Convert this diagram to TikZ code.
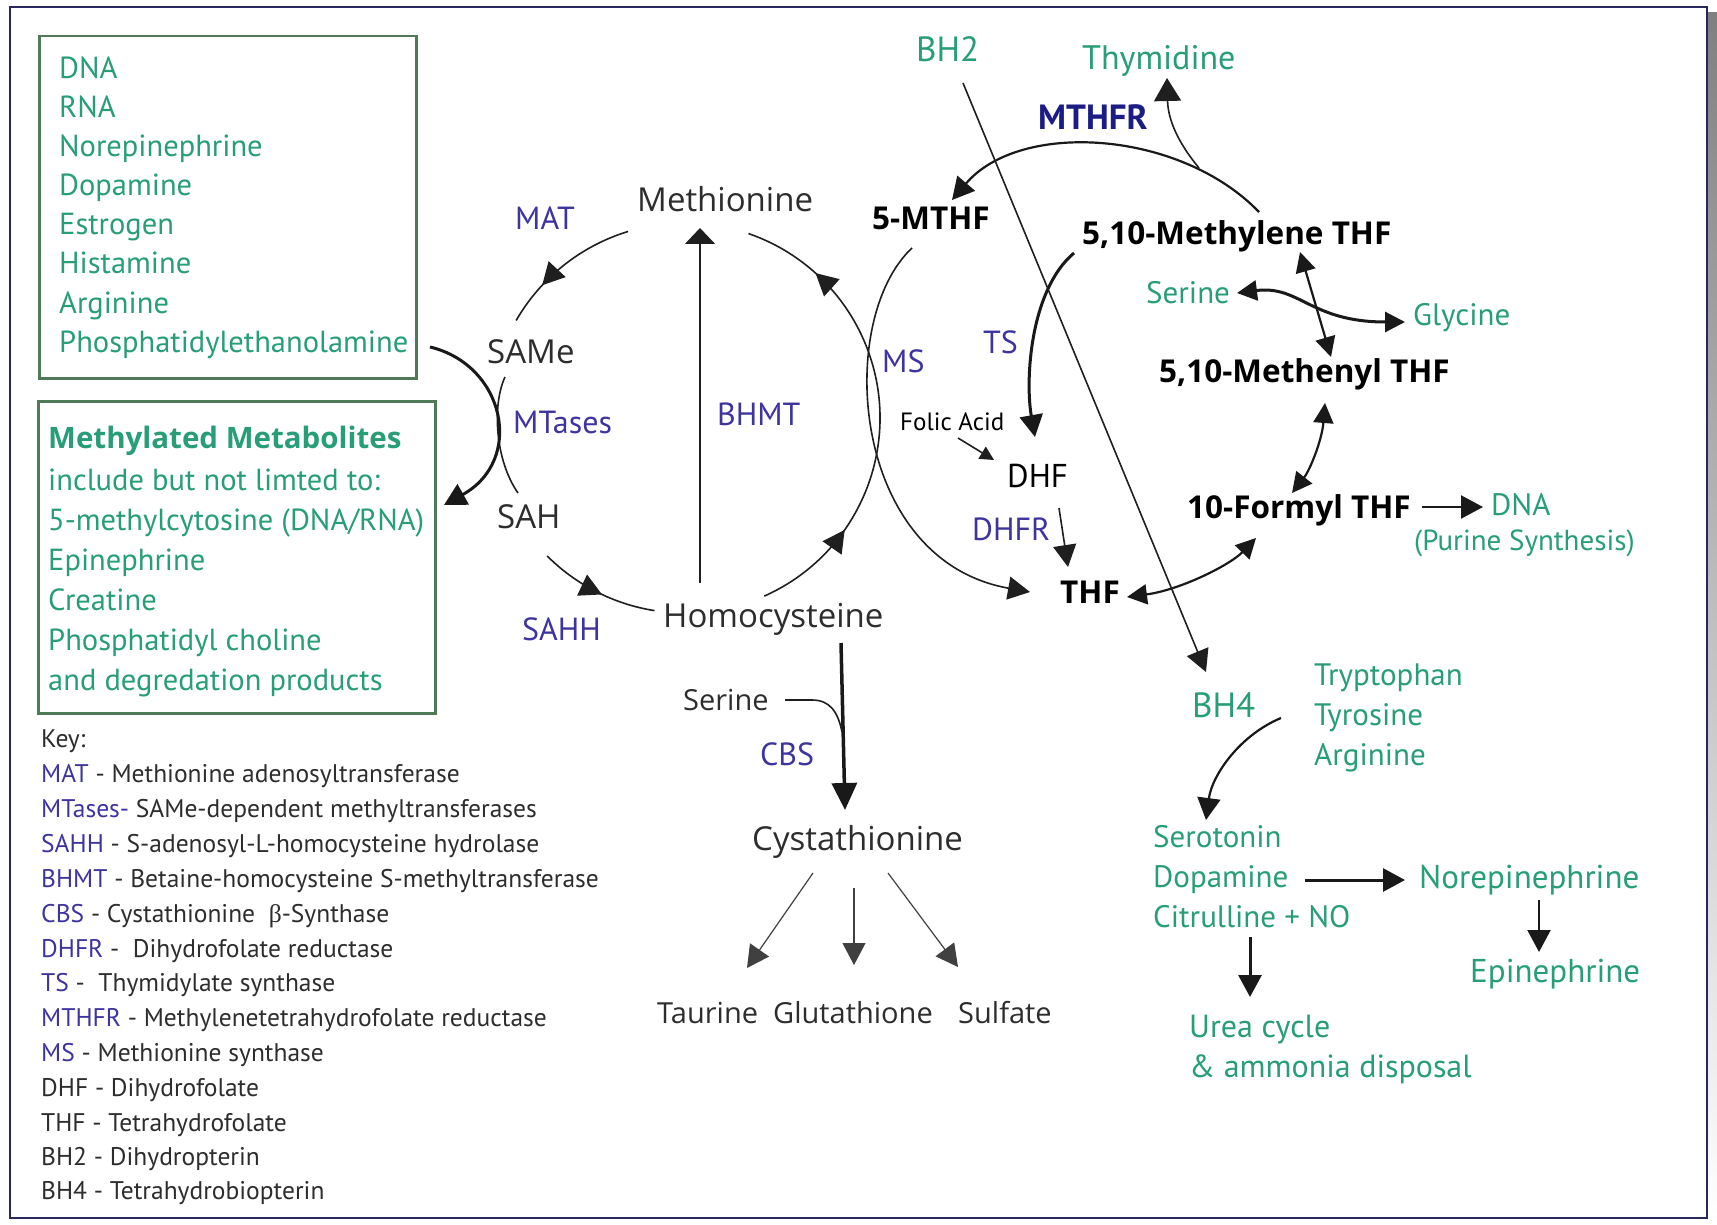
\documentclass[tikz,border=0pt]{standalone}
\usepackage{fontspec}
\setmainfont{PT Sans}
\newfontfamily\roundfont{Open Sans}
\newfontfamily\greekfont{Liberation Serif}
\usetikzlibrary{arrows.meta,decorations.markings}
\definecolor{leaf}{RGB}{40,158,118}
\definecolor{boxline}{RGB}{78,122,88}
\definecolor{enz}{RGB}{62,52,160}
\definecolor{enzdark}{RGB}{28,28,135}
\definecolor{ink}{RGB}{45,45,45}
\definecolor{framec}{RGB}{40,40,95}
\definecolor{shade}{RGB}{168,170,190}
\newcommand\fs[1]{\fontsize{#1}{#1}\selectfont}
\begin{document}
\begin{tikzpicture}[x=1pt,y=-1pt,
  txt/.style={inner sep=0pt,anchor=base west},
  grn/.style={txt,text=leaf,font=\fs{30.5}},
  enzl/.style={txt,text=enz,font=\fs{32}},
  metab/.style={txt,text=ink,font=\roundfont\fs{33}},
  fol/.style={txt,text=black,font=\roundfont\fs{31.5}\bfseries},
  keyt/.style={txt,text=ink,font=\fs{25.5}},
  lnA/.style={line width=1.6pt,draw=black!88},
  lnB/.style={line width=2.2pt,draw=black!90},
  lnC/.style={line width=3pt,draw=black!90},
  lnD/.style={line width=3.5pt,draw=black!90},
  lnE/.style={line width=1.2pt,draw=black!75},
  tipA/.style={-{Triangle[length=22pt,width=23pt]}},
  tipB/.style={{Triangle[length=20pt,width=20pt]}-{Triangle[length=20pt,width=20pt]}},
  midtip/.style={postaction={decorate},decoration={markings,
     mark=at position #1 with {\arrow{Triangle[length=22pt,width=23pt]}}}},
  twotips/.style 2 args={postaction={decorate},decoration={markings,
     mark=at position #1 with {\arrow{Triangle[length=22pt,width=23pt]}},
     mark=at position #2 with {\arrow{Triangle[length=22pt,width=23pt]}}}},
]
\useasboundingbox (0,0) rectangle (1717,1225);
% page frame with drop shadow
\fill[shade] (16,13) rectangle (1717,1225);
\draw[fill=white,draw=framec,line width=1.5pt] (10,7) rectangle (1707,1218);

% ---------- left boxes ----------
\node[draw=boxline,line width=2.5pt,minimum width=377pt,minimum height=342pt,inner sep=0pt,anchor=north west] (srcbox) at (38,35) {};
\foreach \w [count=\i] in {DNA,RNA,Norepinephrine,Dopamine,Estrogen,Histamine,Arginine,Phosphatidylethanolamine}
  \node[grn] (src\i) at (59,{40+39*\i}) {\w};

\node[draw=boxline,line width=2.5pt,minimum width=397pt,minimum height=312pt,inner sep=0pt,anchor=north west] (metbox) at (37,400) {};
\node[grn,font=\roundfont\fs{29.5}\bfseries] (mm0) at (48,448) {Methylated Metabolites};
\foreach \w [count=\i] in {include but not limted to:,5-methylcytosine (DNA/RNA),Epinephrine,Creatine,Phosphatidyl choline,and degredation products}
  \node[grn] (mm\i) at (48,{450+40*\i}) {\w};

% ---------- key ----------
\node[keyt] (key0) at (41,747) {Key:};
\node[keyt] (key1) at (41,782) {\textcolor{enz}{MAT} - Methionine adenosyltransferase};
\node[keyt] (key2) at (41,817) {\textcolor{enz}{MTases-} SAMe-dependent methyltransferases};
\node[keyt] (key3) at (41,852) {\textcolor{enz}{SAHH} - S-adenosyl-L-homocysteine hydrolase};
\node[keyt] (key4) at (41,887) {\textcolor{enz}{BHMT} - Betaine-homocysteine S-methyltransferase};
\node[keyt] (key5) at (41,922) {\textcolor{enz}{CBS} - Cystathionine\ \ {\greekfont β}-Synthase};
\node[keyt] (key6) at (41,957) {\textcolor{enz}{DHFR} -\ \ Dihydrofolate reductase};
\node[keyt] (key7) at (41,991) {\textcolor{enz}{TS} -\ \ Thymidylate synthase};
\node[keyt] (key8) at (41,1026) {\textcolor{enz}{MTHFR} - Methylenetetrahydrofolate reductase};
\node[keyt] (key9) at (41,1061) {\textcolor{enz}{MS} - Methionine synthase};
\node[keyt] (key10) at (41,1096) {DHF - Dihydrofolate};
\node[keyt] (key11) at (41,1131) {THF - Tetrahydrofolate};
\node[keyt] (key12) at (41,1165) {BH2 - Dihydropterin};
\node[keyt] (key13) at (41,1199) {BH4 - Tetrahydrobiopterin};

% ---------- methionine cycle ----------
\node[metab] (met) at (637,212) {Methionine};
\node[metab] (same) at (487,363) {SAMe};
\node[metab] (sah) at (497,528) {SAH};
\node[metab] (hcy) at (663,627) {Homocysteine};
\node[metab,font=\roundfont\fs{29}] (ser1) at (683,710) {Serine};
\node[metab] (cys) at (752,850) {Cystathionine};
\node[metab,font=\roundfont\fs{29}] (tau) at (657,1023) {Taurine};
\node[metab,font=\roundfont\fs{29}] (glu) at (773,1023) {Glutathione};
\node[metab,font=\roundfont\fs{29}] (sulf) at (958,1023) {Sulfate};

\node[enzl] (mat) at (515,230) {MAT};
\node[enzl] (mtase) at (513,433) {MTases};
\node[enzl] (sahh) at (522,640) {SAHH};
\node[enzl] (bhmt) at (717,425) {BHMT};
\node[enzl] (ms) at (882,372) {MS};
\node[enzl] (cbs) at (760,765) {CBS};
\node[enzl] (ts) at (983,353) {TS};
\node[enzl] (dhfr) at (972,540) {DHFR};
\node[txt,text=enzdark,font=\fs{35}\bfseries] (mthfr) at (1038,130) {MTHFR};

% ---------- folate cycle ----------
\node[fol] (mthf) at (872,230) {5-MTHF};
\node[fol] (mlene) at (1082,245) {5,10-Methylene THF};
\node[fol] (mnyl) at (1159,382) {5,10-Methenyl THF};
\node[fol] (formyl) at (1187,518) {10-Formyl THF};
\node[fol] (thf) at (1060,603) {THF};
\node[txt,font=\fs{25}] (folic) at (900,430) {Folic Acid};
\node[txt,font=\fs{33}] (dhf) at (1007,487) {DHF};

\node[grn,font=\fs{35}] (bh2) at (916,62) {BH2};
\node[grn,font=\fs{34}] (thy) at (1082,70) {Thymidine};
\node[grn,font=\fs{31}] (ser2) at (1146,303) {Serine};
\node[grn,font=\fs{31}] (gly) at (1413,325) {Glycine};
\node[grn,font=\fs{31}] (dna) at (1491,515) {DNA};
\node[grn,font=\fs{29}] (pur) at (1414,550) {(Purine Synthesis)};
\node[grn,font=\fs{35}] (bh4) at (1192,717) {BH4};
\node[grn,font=\fs{31}] (trp) at (1314,685) {Tryptophan};
\node[grn,font=\fs{31}] (tyr) at (1314,725) {Tyrosine};
\node[grn,font=\fs{31}] (arg) at (1314,765) {Arginine};
\node[grn,font=\fs{31}] (sero) at (1153,847) {Serotonin};
\node[grn,font=\fs{31}] (dopa) at (1153,887) {Dopamine};
\node[grn,font=\fs{31}] (citr) at (1153,927) {Citrulline + NO};
\node[grn,font=\fs{33}] (nor) at (1419,888) {Norepinephrine};
\node[grn,font=\fs{33}] (epi) at (1470,982) {Epinephrine};
\node[grn,font=\fs{32}] (urea) at (1189,1037) {Urea cycle};
\node[grn,font=\fs{32}] (amm) at (1189,1077) {\& ammonia disposal};

% ---------- connector end points ----------
\coordinate (matA) at (628,231.5);
\coordinate (sahA) at (547.1,555.9);
\coordinate (msA) at (764.3,596.1);
\coordinate (bhmtA) at (700,583);  \coordinate (bhmtB) at (700,228);
\coordinate (mtA) at (505,377);    \coordinate (mtB) at (518,493);
\coordinate (peA) at (430,347);    \coordinate (peB) at (444,505);
\coordinate (cbsA) at (841,643);   \coordinate (cbsB) at (845,810);
\coordinate (serA) at (785,700);   \coordinate (serB) at (842,732);
\coordinate (cyL) at (813,873);    \coordinate (cyLt) at (747,968);
\coordinate (cyM) at (854,888);    \coordinate (cyMt) at (854,965);
\coordinate (cyR) at (888,873);    \coordinate (cyRt) at (958,967);
\coordinate (folA) at (912,248);   \coordinate (folB) at (1030,592);
\coordinate (mthA) at (1259,212);  \coordinate (mthB) at (952,200);
\coordinate (thyA) at (1199,168);  \coordinate (thyB) at (1167,78);
\coordinate (tsA) at (1074,253);   \coordinate (tsB) at (1035,437);
\coordinate (faA) at (958,438);    \coordinate (faB) at (994,460);
\coordinate (dhA) at (1059,508);   \coordinate (dhB) at (1068,567);
\coordinate (tfA) at (1127,597);   \coordinate (tfB) at (1256,538);
\coordinate (fmA) at (1292,493);   \coordinate (fmB) at (1325,403);
\coordinate (mmA) at (1300,252);   \coordinate (mmB) at (1331,357);
\coordinate (sgA) at (1237,293);   \coordinate (sgB) at (1405,322);
\coordinate (bhA) at (963,83);     \coordinate (bhB) at (1206,672);
\coordinate (b4A) at (1281,718);   \coordinate (b4B) at (1206,820);
\coordinate (dnA) at (1305,880);   \coordinate (dnB) at (1405,880);
\coordinate (neA) at (1539,900);   \coordinate (neB) at (1539,952);
\coordinate (cuA) at (1250,937);   \coordinate (cuB) at (1250,997);
\coordinate (fdA) at (1422,507);   \coordinate (fdB) at (1483,507);

% ---------- methionine cycle connectors ----------
\draw[lnA,midtip=0.7] (matA) arc[start angle=253,end angle=210,radius=195];
\draw[lnA,midtip=0.55] (sahA) arc[start angle=135,end angle=99,radius=195];
\draw[lnA,twotips={0.226}{0.832}] (msA) arc[start angle=66,end angle=-71,radius=195];
\draw[lnA,-{Triangle[length=16pt,width=30pt]}] (bhmtA) -- (bhmtB);
\draw[lnA] (mtA) .. controls (492,405) and (495,460) .. (mtB);
\draw[lnC,tipA] (peA) .. controls (505,365) and (525,460) .. (peB);
\draw[lnD,-{Triangle[length=27pt,width=25pt]}] (cbsA) -- (cbsB);
\draw[lnA] (serA) -- (812,700) .. controls (830,700) and (838,712) .. (serB);
\draw[lnE,tipA] (cyL) -- (cyLt);
\draw[lnE,tipA] (cyM) -- (cyMt);
\draw[lnE,tipA] (cyR) -- (cyRt);

% ---------- folate cycle connectors ----------
\draw[lnA,tipA] (folA) .. controls (835,320) and (850,560) .. (folB);
\draw[lnB,tipA] (mthA) .. controls (1180,130) and (1020,120) .. (mthB);
\draw[lnA,-{Triangle[length=23pt,width=27pt]}] (thyA) .. controls (1176,140) and (1168,118) .. (thyB);
\draw[lnC,tipA] (tsA) .. controls (1030,290) and (1025,380) .. (tsB);
\draw[lnA,-{Triangle[length=14pt,width=14pt]}] (faA) -- (faB);
\draw[lnA,tipA] (dhA) -- (dhB);
\draw[lnB,tipB] (tfA) .. controls (1180,590) and (1230,565) .. (tfB);
\draw[lnB,tipB] (fmA) .. controls (1310,470) and (1322,440) .. (fmB);
\draw[lnB,tipB] (mmA) -- (mmB);
\draw[lnC,tipB] (sgA) .. controls (1300,285) and (1310,322) .. (sgB);
\draw[lnA,tipA] (bhA) -- (bhB);
\draw[lnB,tipA] (b4A) .. controls (1240,735) and (1212,775) .. (b4B);
\draw[lnC,tipA] (dnA) -- (dnB);
\draw[lnB,tipA] (neA) -- (neB);
\draw[lnC,tipA] (cuA) -- (cuB);
\draw[lnB,tipA] (fdA) -- (fdB);
\end{tikzpicture}
\end{document}
